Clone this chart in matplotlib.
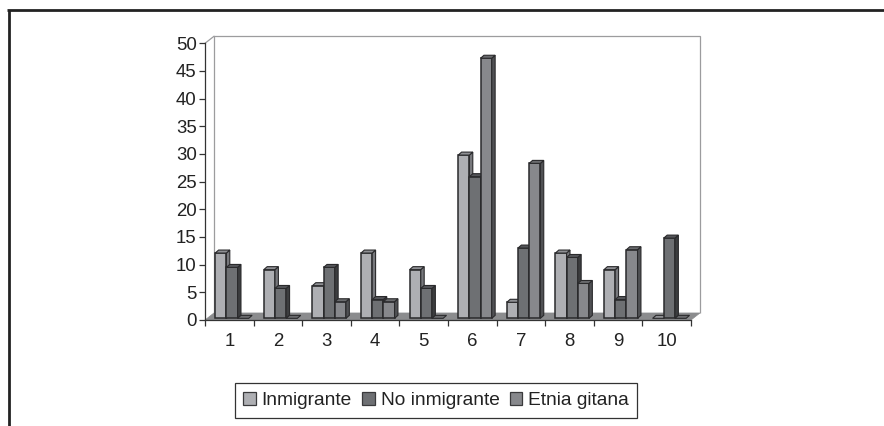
import matplotlib
matplotlib.use("Agg")
import matplotlib.pyplot as plt
from matplotlib.lines import Line2D
from matplotlib.patches import Patch, Polygon

plt.rcParams["font.family"] = ["Liberation Sans", "DejaVu Sans"]

categories = ["1", "2", "3", "4", "5", "6", "7", "8", "9", "10"]
inmigrante = [11.8, 8.8, 5.9, 11.8, 8.8, 29.5, 2.9, 11.8, 8.8, 0]
no_inmigrante = [9.2, 5.4, 9.2, 3.4, 5.4, 25.6, 12.7, 11.0, 3.4, 14.5]
etnia_gitana = [0, 0, 3.0, 3.0, 0, 47.0, 28.0, 6.3, 12.4, 0]
y_ticks = [0, 5, 10, 15, 20, 25, 30, 35, 40, 45, 50]

W, H = 884, 426
TEXT = "#222222"
EDGE = "#2a2a2c"

# front, side and top colours for each series
series = [
    ("Inmigrante", inmigrante, "#aeafb3", "#77787c", "#8f9094"),
    ("No inmigrante", no_inmigrante, "#6e7073", "#3c3d3f", "#55565a"),
    ("Etnia gitana", etnia_gitana, "#87888c", "#505154", "#6a6b6e"),
]

fig = plt.figure(figsize=(W / 100, H / 100), dpi=100)
ax = fig.add_axes([205 / W, 1 - 320 / H, 486 / W, 276.7 / H])
ax.set_xlim(0, 10)
ax.set_ylim(0, 50)

# wall and floor of the pseudo 3d box
wall_dx, wall_dy = 0.185, 1.27
ax.add_patch(Polygon([(wall_dx, wall_dy), (wall_dx, 50 + wall_dy), (10 + wall_dx, 50 + wall_dy), (10 + wall_dx, wall_dy)],
                     closed=False, fill=False, ec="#9c9c9e", lw=0.9, clip_on=False, zorder=1))
ax.add_patch(Polygon([(0, 0), (10, 0), (10 + wall_dx, wall_dy), (wall_dx, wall_dy)],
                     fc="#8b8c8e", ec="#8b8c8e", lw=0.5, clip_on=False, zorder=1))
ax.plot([0, wall_dx], [50, 50 + wall_dy], color="#9c9c9e", lw=0.9, clip_on=False, zorder=1)

bar_w = 0.23
group_start = 0.21
base = 0.3
dx, dy = 0.07, 0.54

for s, (name, values, front, side, top) in enumerate(series):
    for i, v in enumerate(values):
        x0 = i + group_start + s * bar_w
        x1 = x0 + bar_w
        y1 = base + v
        if v > 0:
            ax.bar(x0, v, bar_w, bottom=base, align="edge", color=front, edgecolor=EDGE, linewidth=1.1, zorder=3 + i + s)
            ax.add_patch(Polygon([(x1, base), (x1 + dx, base + dy), (x1 + dx, y1 + dy), (x1, y1)],
                                 fc=side, ec=EDGE, lw=0.8, clip_on=False, zorder=3 + i + s))
        # a zero value still shows its flat top
        ax.add_patch(Polygon([(x0, y1), (x1, y1), (x1 + dx, y1 + dy), (x0 + dx, y1 + dy)],
                             fc=top, ec=EDGE, lw=0.8, clip_on=False, zorder=3 + i + s))

for sp in ["top", "right"]:
    ax.spines[sp].set_visible(False)
for sp in ["left", "bottom"]:
    ax.spines[sp].set_color("#333333")
    ax.spines[sp].set_linewidth(0.9)
ax.patch.set_alpha(0)

ax.set_yticks(y_ticks)
ax.set_xticks(range(11))
ax.set_xticklabels([])
ax.set_xticks([i + 0.5 for i in range(10)], minor=True)
ax.set_xticklabels(categories, minor=True)
ax.tick_params(axis="x", which="major", length=4, width=0.9, color="#333333")
ax.tick_params(axis="x", which="minor", length=0, pad=9, labelsize=13.4, labelcolor=TEXT)
ax.tick_params(axis="y", length=4, width=0.9, color="#333333", pad=2, labelsize=13.4, labelcolor=TEXT)

handles = [Patch(facecolor=c[2], edgecolor="#3a3a3c", linewidth=0.9, label=c[0]) for c in series]
leg = fig.legend(handles=handles, loc="center", bbox_to_anchor=(436 / W, 1 - 400.5 / H), ncols=3,
                 fontsize=13.8, frameon=True, fancybox=False, framealpha=1, edgecolor="#333333",
                 handlelength=0.65, handleheight=0.65, handletextpad=0.31, columnspacing=0.53,
                 borderpad=0.45, borderaxespad=0, labelcolor=TEXT)
leg.get_frame().set_linewidth(0.9)

# page border, open at the right and bottom
fig.add_artist(Line2D([8.5 / W, 8.5 / W], [0, 1 - 10 / H], color="#222222", lw=2, solid_capstyle="butt"))
fig.add_artist(Line2D([7.3 / W, 1], [1 - 10.3 / H, 1 - 10.3 / H], color="#222222", lw=2, solid_capstyle="butt"))

fig.savefig("out.png", dpi=100)
